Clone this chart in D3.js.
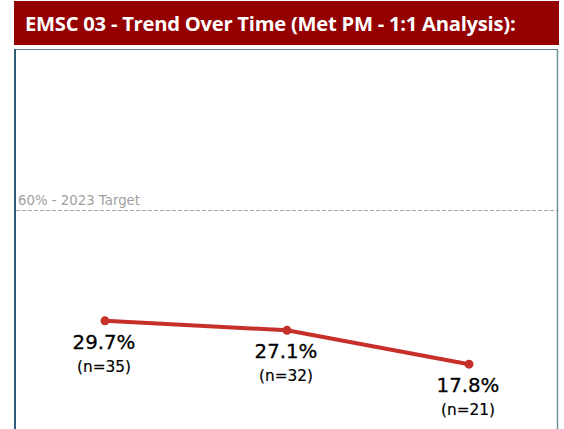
<!DOCTYPE html>
<html>
<head>
<meta charset="utf-8">
<script src="https://cdn.jsdelivr.net/npm/d3@7"></script>
<style>
  body { margin: 0; background: #fff; }
  svg { display: block; }
</style>
</head>
<body>
<svg width="564" height="429"></svg>
<script>
// data
var periods = ['Period 1', 'Period 2', 'Period 3']
var metPct = [29.7, 27.1, 17.8]
var counts = [35, 32, 21]
var targetValue = 60
var targetLabel = '60% - 2023 Target'
var title = 'EMSC 03 - Trend Over Time (Met PM - 1:1 Analysis):'

var data = periods.map(function(p, i) {
  return { period: p, pct: metPct[i], n: counts[i] }
})

var svg = d3.select('svg')

// title bar
svg.append('rect')
  .attr('x', 14).attr('y', 1)
  .attr('width', 545).attr('height', 44)
  .attr('fill', '#940000')

svg.append('text')
  .attr('x', 25).attr('y', 31)
  .attr('fill', '#fff')
  .attr('font-family', 'Open Sans')
  .attr('font-weight', 700)
  .attr('font-size', 20.2)
  .attr('letter-spacing', -0.25)
  .text(title)

// panel border
svg.append('line').attr('x1', 14).attr('x2', 558).attr('y1', 49.5).attr('y2', 49.5)
  .attr('stroke', '#5d7f91').attr('stroke-width', 1)
svg.append('line').attr('x1', 15).attr('x2', 15).attr('y1', 49).attr('y2', 429)
  .attr('stroke', '#2b5d78').attr('stroke-width', 2)
svg.append('line').attr('x1', 557.5).attr('x2', 557.5).attr('y1', 49).attr('y2', 429)
  .attr('stroke', '#6e8f9c').attr('stroke-width', 1.5)

var x = d3.scalePoint()
  .domain(periods)
  .range([105, 469])

var y = d3.scaleLinear()
  .domain([0, 60])
  .range([429, 210.5])

// target reference line
svg.append('line')
  .attr('x1', 16).attr('x2', 557)
  .attr('y1', y(targetValue)).attr('y2', y(targetValue))
  .attr('stroke', '#a6a6a6')
  .attr('stroke-width', 1)
  .attr('stroke-dasharray', '4,2')

svg.append('text')
  .attr('x', 18).attr('y', y(targetValue) - 6)
  .attr('fill', '#a0a0a0')
  .attr('font-family', 'DejaVu Sans')
  .attr('font-size', 13.3)
  .text(targetLabel)

var line = d3.line()
  .x(function(d) { return x(d.period) })
  .y(function(d) { return y(d.pct) })

svg.append('path')
  .datum(data)
  .attr('d', line)
  .attr('fill', 'none')
  .attr('stroke', '#c62f2a')
  .attr('stroke-width', 4)

svg.selectAll('circle.pt')
  .data(data).enter().append('circle')
  .attr('class', 'pt')
  .attr('cx', function(d) { return x(d.period) })
  .attr('cy', function(d) { return y(d.pct) })
  .attr('r', 4.5)
  .attr('fill', '#c62f2a')

svg.selectAll('text.pct')
  .data(data).enter().append('text')
  .attr('class', 'pct')
  .attr('x', function(d) { return x(d.period) - 1 })
  .attr('y', function(d) { return y(d.pct) + 28 })
  .attr('text-anchor', 'middle')
  .attr('font-family', 'DejaVu Sans')
  .attr('font-size', 19.8)
  .attr('fill', '#000')
  .attr('stroke', '#000')
  .attr('stroke-width', 0.3)
  .text(function(d) { return d.pct.toFixed(1) + '%' })

svg.selectAll('text.cnt')
  .data(data).enter().append('text')
  .attr('class', 'cnt')
  .attr('x', function(d) { return x(d.period) - 1 })
  .attr('y', function(d) { return y(d.pct) + 51 })
  .attr('text-anchor', 'middle')
  .attr('font-family', 'DejaVu Sans')
  .attr('font-size', 15.3)
  .attr('fill', '#000')
  .attr('stroke', '#000')
  .attr('stroke-width', 0.2)
  .text(function(d) { return '(n=' + d.n + ')' })
</script>
</body>
</html>
